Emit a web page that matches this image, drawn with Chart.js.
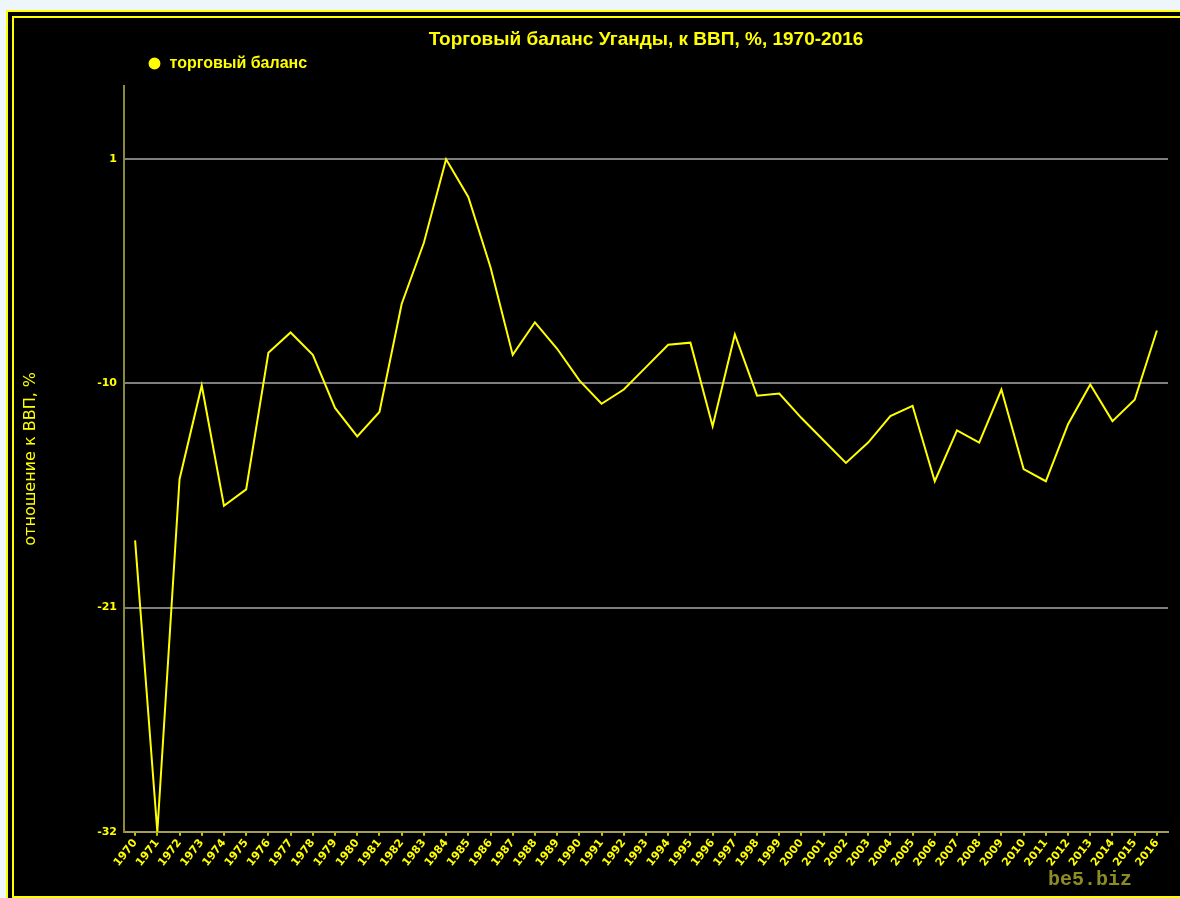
<!DOCTYPE html>
<html>
<head>
<meta charset="utf-8">
<script src="https://cdn.jsdelivr.net/npm/chart.js@4/dist/chart.umd.min.js"></script>
<style>
  body { margin: 0; background: #eef5fb; overflow: hidden; }
  .outer { position: absolute; left: 6px; top: 10px; width: 1300px; height: 1000px; background: #000; border: 2px solid #ffff00; }
  .inner { position: absolute; left: 12px; top: 16px; width: 1300px; height: 882px; border: 2px solid #ffff00; box-sizing: border-box; }
  #wrap { position: absolute; left: 0; top: 0; width: 1180px; height: 898px; }
</style>
</head>
<body>
<div class="outer"></div>
<div class="inner"></div>
<div id="wrap"><canvas id="chart"></canvas></div>
<script>
// годы и значения торгового баланса (% ВВП)
const years = ['1970','1971','1972','1973','1974','1975','1976','1977','1978','1979',
  '1980','1981','1982','1983','1984','1985','1986','1987','1988','1989',
  '1990','1991','1992','1993','1994','1995','1996','1997','1998','1999',
  '2000','2001','2002','2003','2004','2005','2006','2007','2008','2009',
  '2010','2011','2012','2013','2014','2015','2016'];
const tradeBalance = [-17.7, -32.0, -14.7, -10.1, -16.0, -15.2, -8.5, -7.5, -8.6, -11.2,
  -12.6, -11.4, -6.1, -3.1, 1.0, -0.85, -4.3, -8.6, -7.0, -8.3,
  -9.85, -11.0, -10.3, -9.2, -8.1, -8.0, -12.1, -7.6, -10.6, -10.5,
  -11.7, -12.8, -13.9, -12.9, -11.6, -11.1, -14.8, -12.3, -12.9, -10.3,
  -14.2, -14.8, -12.0, -10.05, -11.85, -10.8, -7.4];
const yTicks = [-32, -21, -10, 1];
const yMin = -32;
const yMax = 4.6;

const yellow = '#ffff00';

// сдвигаем заголовок и легенду как на оригинале
const placeBlocks = {
  id: 'placeBlocks',
  beforeLayout(chart) {
    const lg = chart.legend;
    if (lg && !lg._patched) {
      const fit = lg.fit;
      lg.fit = function () { fit.call(this); this.height += 4.4; };
      lg._patched = true;
    }
  },
  afterLayout(chart) {
    const ca = chart.chartArea;
    if (chart.titleBlock) {
      chart.titleBlock.left = ca.left;
      chart.titleBlock.right = ca.right;
    }
    if (chart.legend) chart.legend.left = 143.4;
  },
  afterDraw(chart) {
    const ctx = chart.ctx;
    ctx.save();
    ctx.font = 'bold 20px "Liberation Mono"';
    ctx.fillStyle = '#8c8c22';
    ctx.textBaseline = 'alphabetic';
    ctx.fillText('be5.biz', 1048, 885);
    ctx.restore();
  }
};

new Chart(document.getElementById('chart'), {
  type: 'line',
  data: {
    labels: years,
    datasets: [{
      label: 'торговый баланс',
      data: tradeBalance,
      borderColor: yellow,
      backgroundColor: yellow,
      borderWidth: 2,
      pointRadius: 0,
      tension: 0
    }]
  },
  options: {
    responsive: true,
    maintainAspectRatio: false,
    animation: false,
    layout: { padding: { top: 20, left: 14, right: 12, bottom: 28 } },
    plugins: {
      title: {
        display: true,
        text: 'Торговый баланс Уганды, к ВВП, %, 1970-2016',
        color: yellow,
        font: { family: '"Liberation Sans", Arial', size: 19, weight: 'bold' },
        padding: { top: 8.6, bottom: 0 }
      },
      legend: {
        display: true,
        align: 'start',
        labels: {
          color: yellow,
          font: { family: '"Liberation Sans", Arial', size: 16, weight: 'bold' },
          usePointStyle: true,
          pointStyle: 'circle',
          boxWidth: 14,
          boxHeight: 7,
          padding: 4.1
        }
      },
      tooltip: { enabled: false }
    },
    scales: {
      x: {
        offset: true,
        grid: { display: true, drawOnChartArea: false, drawTicks: true, tickLength: 4, color: '#c8c800', lineWidth: 2 },
        border: { display: true, color: '#a0a050', width: 2 },
        ticks: {
          color: yellow,
          font: { family: '"DejaVu Sans"', size: 11, weight: 'bold' },
          minRotation: 52,
          maxRotation: 52,
          autoSkip: false,
          padding: 1
        }
      },
      y: {
        min: yMin,
        max: yMax,
        afterBuildTicks(scale) { scale.ticks = yTicks.map(v => ({ value: v })); },
        afterFit(scale) { scale.width = 110; },
        grid: { color: '#7f7f7f', lineWidth: 2, drawTicks: false },
        border: { display: true, color: '#8a8a3a', width: 2 },
        ticks: {
          color: yellow,
          font: { family: '"DejaVu Sans"', size: 11, weight: 'bold' },
          padding: 7
        },
        title: {
          display: true,
          text: 'отношение к ВВП, %',
          color: yellow,
          font: { family: '"DejaVu Sans"', size: 16 },
          padding: { top: 7.4, bottom: 0 }
        }
      }
    }
  },
  plugins: [placeBlocks]
});
</script>
</body>
</html>
